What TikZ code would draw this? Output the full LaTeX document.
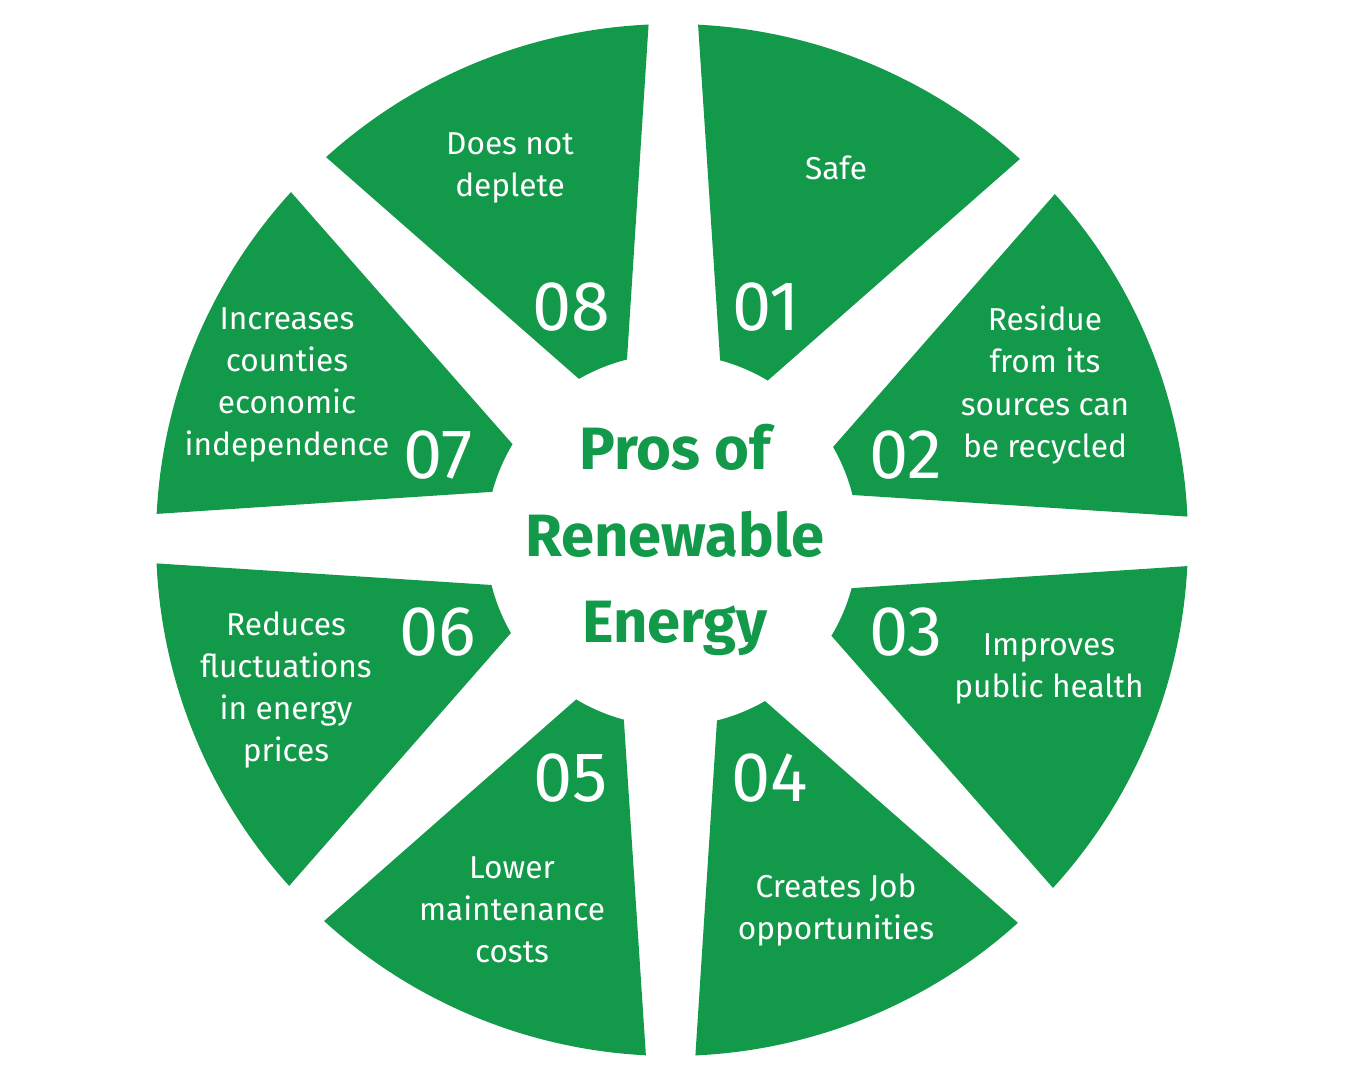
\documentclass[tikz,border=0pt]{standalone}
\usepackage{fontspec}
\setmainfont{Fira Sans}
\usepackage{tikz}
\definecolor{leaf}{HTML}{12994A}

\begin{document}
\begin{tikzpicture}[sector/.style={fill=leaf}, txt/.style={text=white,align=center,font=\fontsize{9}{12}\selectfont},
    num/.style={text=white,font=\fontsize{20}{20}\selectfont}, title/.style={text=leaf,align=center,font=\fontsize{17}{24.5}\selectfont\bfseries}]
    \useasboundingbox (-6.72,-5.40) rectangle (6.78,5.40);
    \foreach \k in {0,...,7}
      \fill[sector,rotate=-45*\k] (87.1:5.16) arc[start angle=87.1,end angle=47.6,radius=5.16] -- (59:1.86) arc[start angle=59,end angle=75,radius=1.86] -- cycle;

    \node[title] (ttl) at (0.03,0) {Pros of\\Renewable\\Energy};

    \node[num] (none) at (0.94,2.33) {01};
    \node[num] (ntwo) at (2.34,0.85) {02};
    \node[num] (nthree) at (2.34,-0.92) {03};
    \node[num] (nfour) at (0.98,-2.38) {04};
    \node[num] (nfive) at (-1.01,-2.38) {05};
    \node[num] (nsix) at (-2.34,-0.92) {06};
    \node[num] (nseven) at (-2.34,0.85) {07};
    \node[num] (neight) at (-1.01,2.33) {08};

    \node[txt] (tone) at (1.64,3.72) {Safe};
    \node[txt] (ttwo) at (3.73,1.55) {Residue\\from its\\sources can\\be recycled};
    \node[txt] (tthree) at (3.77,-1.29) {Improves\\public health};
    \node[txt] (tfour) at (1.64,-3.70) {Creates Job\\opportunities};
    \node[txt] (tfive) at (-1.60,-3.70) {Lower\\maintenance\\costs};
    \node[txt] (tsix) at (-3.86,-1.50) {Reduces\\fluctuations\\in energy\\prices};
    \node[txt] (tseven) at (-3.85,1.55) {Increases\\counties\\economic\\independence};
    \node[txt] (teight) at (-1.62,3.72) {Does not\\deplete};
  \end{tikzpicture}
\end{document}
